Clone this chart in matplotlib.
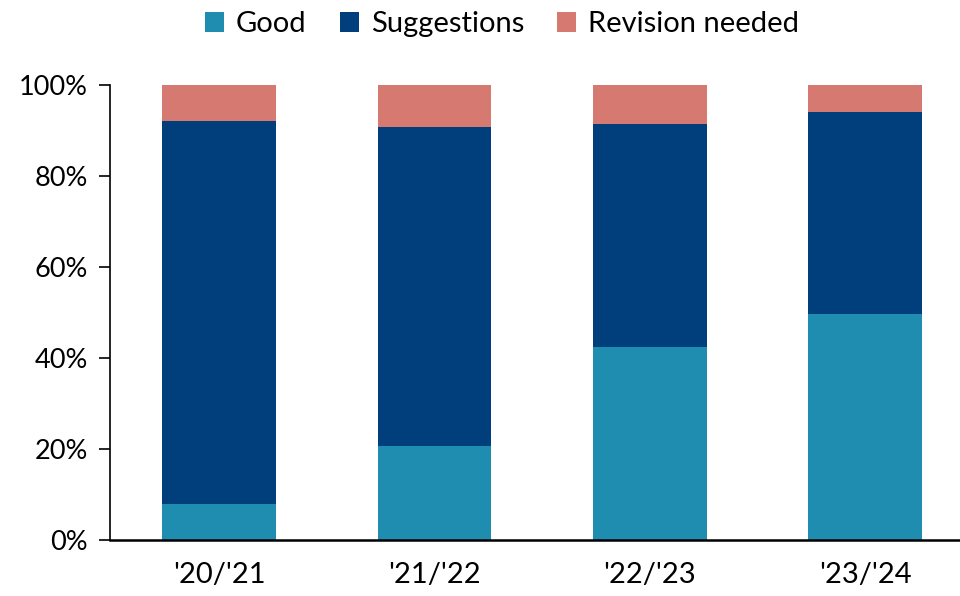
import matplotlib
matplotlib.use("Agg")
import matplotlib.pyplot as plt
from matplotlib.ticker import PercentFormatter

categories = ["'20/'21", "'21/'22", "'22/'23", "'23/'24"]
good = [8.0, 20.7, 42.4, 49.7]
suggestions = [84.1, 70.1, 49.1, 44.4]
revision = [7.9, 9.2, 8.5, 5.9]

series_names = ["Good", "Suggestions", "Revision needed"]
colors = ["#1F8DB0", "#003F7B", "#D67A71"]

plt.rcParams['font.family'] = ['Lato', 'DejaVu Sans']

fig = plt.figure(figsize=(9.6, 5.96), dpi=100)
ax = fig.add_axes([0.1146, 0.094, 0.8854, 0.7634])

x = range(len(categories))
w = 0.527
bottom = [0.0] * len(categories)
handles = []
for name, vals, c in zip(series_names, [good, suggestions, revision], colors):
    b = ax.bar(x, vals, width=w, bottom=bottom, color=c, label=name, linewidth=0)
    handles.append(b)
    bottom = [bb + v for bb, v in zip(bottom, vals)]

ax.set_ylim(0, 100)
ax.set_xlim(-0.506, 3.44)
ax.set_yticks([0, 20, 40, 60, 80, 100])
ax.yaxis.set_major_formatter(PercentFormatter(decimals=0))
ax.set_xticks(list(x))
ax.set_xticklabels(categories)
ax.tick_params(axis='x', length=0, pad=16, labelsize=21)
ax.tick_params(axis='y', length=8, width=1.2, pad=8, labelsize=19.5, direction='out')
for s in ['top', 'right']:
    ax.spines[s].set_visible(False)
ax.spines['left'].set_linewidth(1.2)
ax.spines['bottom'].set_linewidth(1.8)

fig.legend(handles=handles, labels=series_names, loc='upper center',
           bbox_to_anchor=(0.523, 1.025), ncol=3, frameon=False, fontsize=21,
           handlelength=0.65, handleheight=0.65, handletextpad=0.4, columnspacing=1.15)

fig.savefig("out.png", dpi=100)
